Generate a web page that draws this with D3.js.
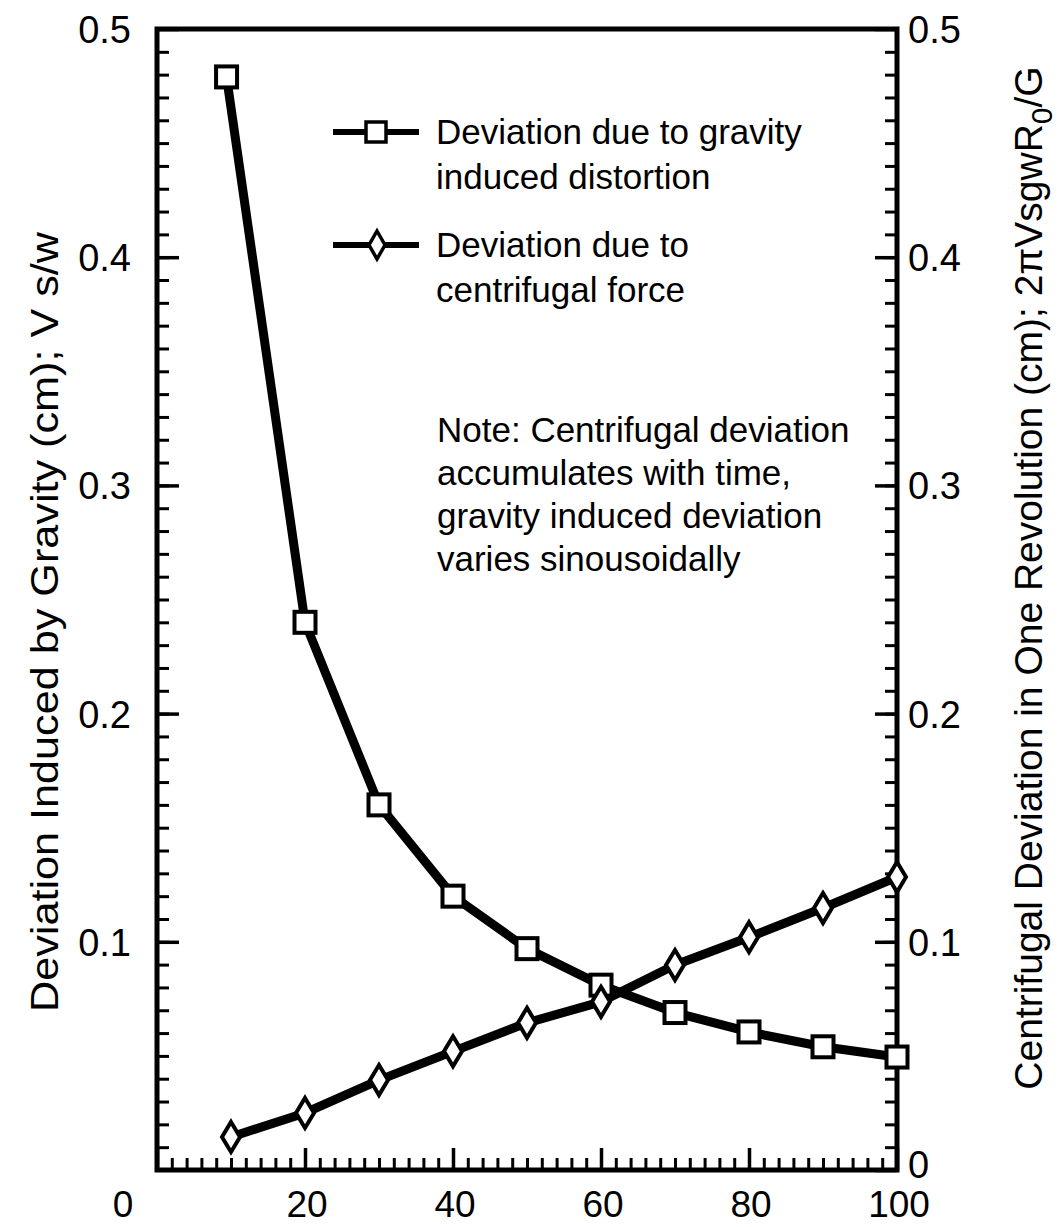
<!DOCTYPE html>
<html>
<head>
<meta charset="utf-8">
<script src="https://cdn.jsdelivr.net/npm/d3@7"></script>
<style>
  body { margin: 0; background: #fff; }
  svg text { font-family: "Liberation Sans", Arial, Helvetica, sans-serif; fill: #000; }
</style>
</head>
<body>
<div id="chart"></div>
<script>
// data
const gravityX = [9.4, 20, 30, 40, 50, 60, 70, 80, 90, 100];
const gravityVals = [0.479, 0.24, 0.16, 0.12, 0.097, 0.081, 0.069, 0.0605, 0.054, 0.0495];
const centX = [10, 20, 30, 40, 50, 60, 70, 80, 90, 100];
const centVals = [0.0145, 0.025, 0.0394, 0.052, 0.0645, 0.0737, 0.0898, 0.102, 0.1148, 0.1284];

const xLabels = [0, 20, 40, 60, 80, 100];
const leftLabels = [0.1, 0.2, 0.3, 0.4, 0.5];
const rightLabels = [0, 0.1, 0.2, 0.3, 0.4, 0.5];

const legendText = [
  ["Deviation due to gravity", "induced distortion"],
  ["Deviation due to", "centrifugal force"]
];
const noteLines = [
  "Note: Centrifugal deviation",
  "accumulates with time,",
  "gravity induced deviation",
  "varies sinousoidally"
];

const w = 1059, h = 1227;
const plotL = 157, plotR = 897, plotT = 29, plotB = 1170;

const svg = d3.select("#chart").append("svg")
  .attr("width", w).attr("height", h);

const x = d3.scaleLinear().domain([0, 100]).range([plotL, plotR]);
const y = d3.scaleLinear().domain([0, 0.5]).range([plotB, plotT]);

// minor ticks
const yMinor = d3.range(0, 0.5001, 0.01).map(d => +d.toFixed(2));
const xMinor = d3.range(0, 100.01, 2);

function styleAxis(g, width) {
  g.select(".domain").remove();
  g.selectAll(".tick line").attr("stroke", "#000").attr("stroke-width", width);
  g.selectAll(".tick text").remove();
}

// left axis ticks (inward)
svg.append("g").attr("transform", `translate(${plotL},0)`)
  .call(d3.axisLeft(y).tickValues(yMinor).tickSize(-12))
  .call(g => styleAxis(g, 3));
svg.append("g").attr("transform", `translate(${plotL},0)`)
  .call(d3.axisLeft(y).tickValues(leftLabels).tickSize(-22))
  .call(g => styleAxis(g, 3.5));

// right axis ticks (inward)
svg.append("g").attr("transform", `translate(${plotR},0)`)
  .call(d3.axisRight(y).tickValues(yMinor).tickSize(-12))
  .call(g => styleAxis(g, 3));
svg.append("g").attr("transform", `translate(${plotR},0)`)
  .call(d3.axisRight(y).tickValues(rightLabels).tickSize(-22))
  .call(g => styleAxis(g, 3.5));

// bottom ticks (inward)
svg.append("g").attr("transform", `translate(0,${plotB})`)
  .call(d3.axisBottom(x).tickValues(xMinor).tickSize(-12))
  .call(g => styleAxis(g, 3));
svg.append("g").attr("transform", `translate(0,${plotB})`)
  .call(d3.axisBottom(x).tickValues(xLabels).tickSize(-22))
  .call(g => styleAxis(g, 3.5));

// frame
svg.append("rect")
  .attr("x", plotL).attr("y", plotT)
  .attr("width", plotR - plotL).attr("height", plotB - plotT)
  .attr("fill", "none").attr("stroke", "#000").attr("stroke-width", 5);

// tick labels
svg.selectAll(".xl").data(xLabels).enter().append("text")
  .attr("x", d => x(d) + (d === 0 ? -34 : 2))
  .attr("y", 1217)
  .attr("text-anchor", "middle")
  .style("font-size", "37px")
  .text(d => d);

svg.selectAll(".yl").data(leftLabels).enter().append("text")
  .attr("x", 131)
  .attr("y", d => y(d) + 14)
  .attr("text-anchor", "end")
  .style("font-size", "38px")
  .text(d => d3.format(".1f")(d));

svg.selectAll(".yr").data(rightLabels).enter().append("text")
  .attr("x", 908)
  .attr("y", d => y(d) + (d === 0 ? 8 : 14))
  .attr("text-anchor", "start")
  .style("font-size", "38px")
  .text(d => d === 0 ? "0" : d3.format(".1f")(d));

// axis titles
svg.append("text")
  .attr("transform", `translate(58,${622}) rotate(-90)`)
  .attr("text-anchor", "middle")
  .style("font-size", "38px")
  .attr("textLength", 780).attr("lengthAdjust", "spacingAndGlyphs")
  .text("Deviation Induced by Gravity (cm); V s/w");

const rt = svg.append("text")
  .attr("transform", `translate(1042,${578}) rotate(-90)`)
  .attr("text-anchor", "middle")
  .style("font-size", "39px");
rt.append("tspan").text("Centrifugal Deviation in One Revolution (cm); 2\u03C0VsgwR");
rt.append("tspan").attr("dy", 10).style("font-size", "30px").text("0");
rt.append("tspan").attr("dy", -10).text("/G");

// series lines
const lineG = d3.line().x(d => x(d[0])).y(d => y(d[1]));
const gData = gravityX.map((d, i) => [d, gravityVals[i]]);
const cData = centX.map((d, i) => [d, centVals[i]]);

svg.append("path").datum(gData).attr("d", lineG)
  .attr("fill", "none").attr("stroke", "#000").attr("stroke-width", 9)
  .attr("stroke-linejoin", "round");
svg.append("path").datum(cData).attr("d", lineG)
  .attr("fill", "none").attr("stroke", "#000").attr("stroke-width", 9)
  .attr("stroke-linejoin", "round");

// markers
const sq = 21;
svg.selectAll(".sq").data(gData).enter().append("rect")
  .attr("x", d => x(d[0]) - sq / 2).attr("y", d => y(d[1]) - sq / 2)
  .attr("width", sq).attr("height", sq)
  .attr("fill", "#fff").attr("stroke", "#000").attr("stroke-width", 4);

function diamond(cx, cy, hw, hh) {
  return `M${cx},${cy - hh}L${cx + hw},${cy}L${cx},${cy + hh}L${cx - hw},${cy}Z`;
}
svg.selectAll(".dm").data(cData).enter().append("path")
  .attr("d", d => diamond(x(d[0]), y(d[1]), 9, 15))
  .attr("fill", "#fff").attr("stroke", "#000").attr("stroke-width", 4);

// legend
const legY = [132, 245];
legY.forEach((ly, i) => {
  svg.append("line").attr("x1", 333).attr("x2", 419).attr("y1", ly).attr("y2", ly)
    .attr("stroke", "#000").attr("stroke-width", 6);
  if (i === 0) {
    svg.append("rect").attr("x", 376 - 10).attr("y", ly - 10).attr("width", 20).attr("height", 20)
      .attr("fill", "#fff").attr("stroke", "#000").attr("stroke-width", 3.5);
  } else {
    svg.append("path").attr("d", diamond(377, ly, 8, 14))
      .attr("fill", "#fff").attr("stroke", "#000").attr("stroke-width", 3.5);
  }
  legendText[i].forEach((t, j) => {
    svg.append("text").attr("x", 436).attr("y", ly + 12 + j * 45)
      .style("font-size", "35px").text(t);
  });
});

// note
noteLines.forEach((t, j) => {
  svg.append("text").attr("x", 437).attr("y", 442 + j * 43)
    .style("font-size", "35px").text(t);
});
</script>
</body>
</html>
